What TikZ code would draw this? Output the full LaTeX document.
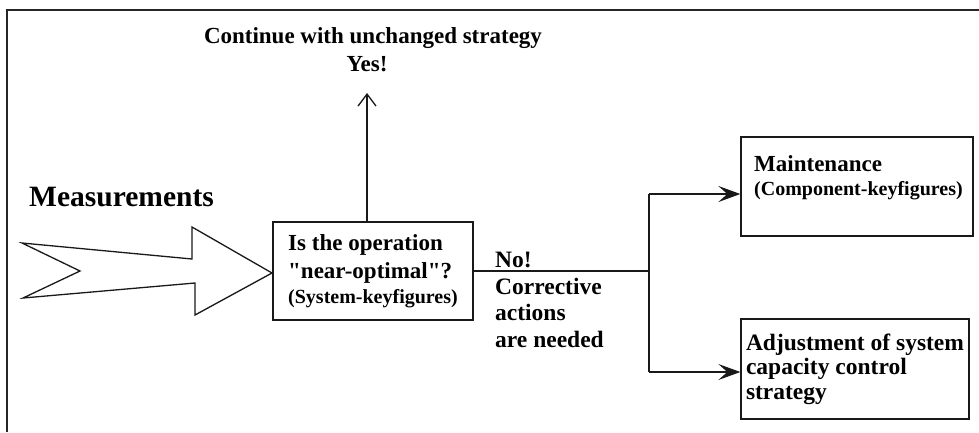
\documentclass[tikz,border=0pt]{standalone}
\usepackage{fontspec}
\setmainfont{Liberation Serif}[Ligatures=TeXOff]
\usetikzlibrary{arrows.meta}
\begin{document}
\begin{tikzpicture}[x=1pt,y=-1pt,
  box/.style={draw=black!90, line width=1.3pt, inner sep=0pt},
  bigtxt/.style={font=\bfseries\fontsize{23}{28}\selectfont, inner sep=0pt},
  conn/.style={draw=black!90, line width=1.3pt},
  harrow/.style={conn, -{Stealth[length=22pt,width=16pt,inset=9pt]}},
  varrow/.style={conn, -{Straight Barb[length=12pt,width=18pt]}}]
\useasboundingbox (0,0) rectangle (979,432);
% outer frame (top and left only)
\draw[line width=1.5pt, draw=black!85] (7,432) -- (7,10) -- (979,10);

% measurements arrow
\coordinate (m1) at (22,243);
\coordinate (m2) at (80,271);
\coordinate (m3) at (23,298);
\coordinate (m4) at (195,283);
\coordinate (m5) at (195,315);
\coordinate (m6) at (272,273);
\coordinate (m7) at (192,227);
\coordinate (m8) at (192,259);
\draw[line width=1.3pt, draw=black!90, fill=white, line join=miter]
  (m1) -- (m2) -- (m3) -- (m4) -- (m5) -- (m6) -- (m7) -- (m8) -- cycle;
\node[font=\bfseries\fontsize{29.5}{34}\selectfont, inner sep=0pt, anchor=west] (meas) at (29,197) {Measurements};

% central decision box
\node[box, bigtxt, minimum width=200pt, minimum height=98pt, align=left] (q) at (373,271)
  {Is the operation\\"near-optimal"?\\[-3pt]{\fontsize{20}{24}\selectfont (System-keyfigures)}};

% continue / yes
\node[bigtxt, anchor=center] (cont) at (373,38) {Continue with unchanged strategy};
\node[bigtxt, anchor=center] (yes) at (367,64) {Yes!};
\coordinate (yestip) at (367,93);
\draw[varrow] (q.north -| yestip) -- (yestip);

% No! label
\node[bigtxt, font=\bfseries\fontsize{23.5}{26.7}\selectfont, align=left, anchor=west] (no) at (495,300)
  {No!\\Corrective\\actions\\are needed};

% junction
\coordinate (jtop) at (649,194);
\coordinate (jbot) at (649,372);
\draw[conn] (q.east) -- (q.east -| jtop);
\draw[line width=2.2pt, draw=black!90] (620,271) -- (q.east -| jtop);
\draw[conn] (jtop) -- (jbot);

% maintenance
\node[box, minimum width=232pt, minimum height=99pt] (maint) at (857,186.5) {};
\node[bigtxt, align=left, anchor=west] (mainttxt) at (754,178)
  {Maintenance\\[-4pt]{\fontsize{20}{24}\selectfont (Component-keyfigures)}};
\draw[harrow, line width=2.2pt] (jtop) -- (jtop -| maint.west);

% adjustment
\node[box, bigtxt, minimum width=228pt, minimum height=100pt, align=left, font=\bfseries\fontsize{23.5}{24.5}\selectfont] (adj) at (855,369)
  {Adjustment of system\\capacity control\\strategy};
\draw[harrow] (jbot) -- (jbot -| adj.west);
\end{tikzpicture}
\end{document}
